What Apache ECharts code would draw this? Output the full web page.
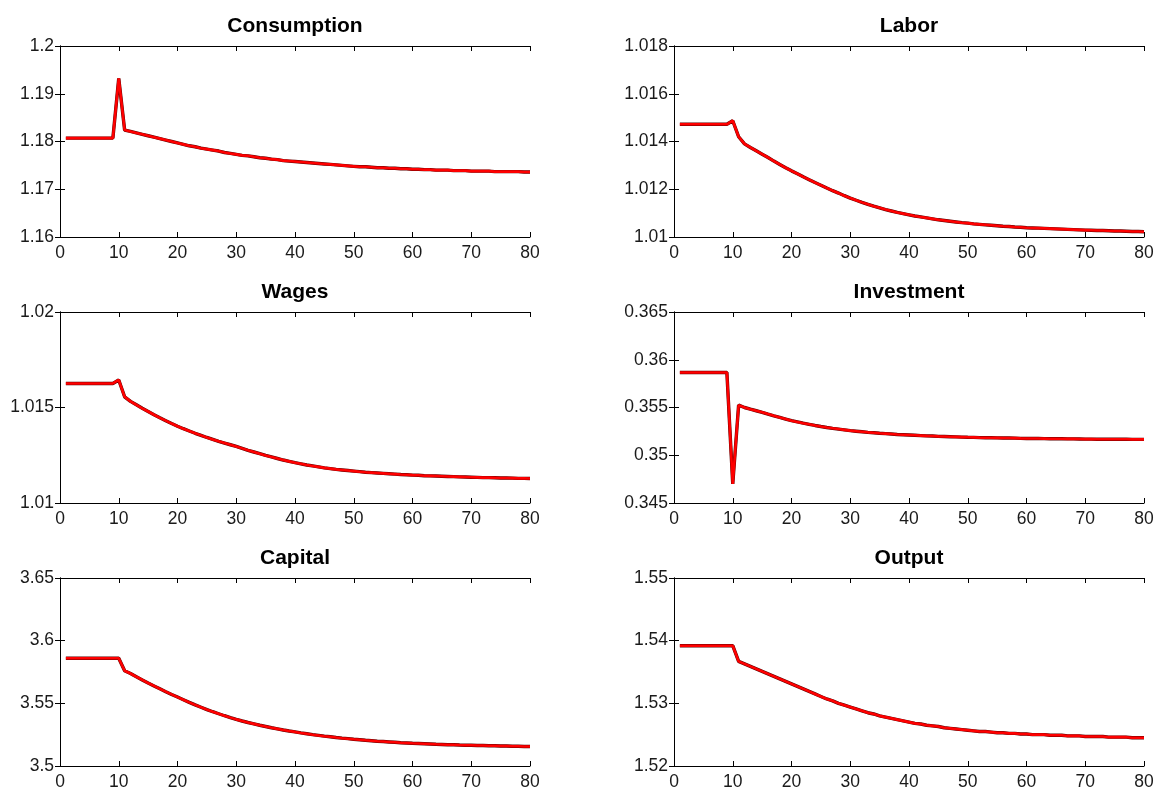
<!DOCTYPE html>
<html><head><meta charset="utf-8">
<script src="https://cdn.jsdelivr.net/npm/echarts@6/dist/echarts.min.js"></script>
<style>html,body{margin:0;padding:0;background:#fff}#c{width:1161px;height:791px}</style>
</head><body><div id="c"></div>
<script>
const periods = [1,2,3,4,5,6,7,8,9,10,11,12,13,14,15,16,17,18,19,20,21,22,23,24,25,26,27,28,29,30,31,32,33,34,35,36,37,38,39,40,41,42,43,44,45,46,47,48,49,50,51,52,53,54,55,56,57,58,59,60,61,62,63,64,65,66,67,68,69,70,71,72,73,74,75,76,77,78,79,80];
const xTicks = [0,10,20,30,40,50,60,70,80];

const consumption = [1.1807,1.1807,1.1807,1.1807,1.1807,1.1807,1.1807,1.1807,1.1807,1.1932,
 1.1824,1.1821,1.1818,1.1815,1.1812,1.1809,1.1806,1.1803,1.1800,1.1797,
 1.1794,1.1791,1.1789,1.1786,1.1784,1.1782,1.1780,1.1777,1.1775,1.1773,
 1.1771,1.1770,1.1768,1.1766,1.1765,1.1763,1.1762,1.1760,1.1759,1.1758,
 1.1757,1.1756,1.1755,1.1754,1.1753,1.1752,1.1751,1.1750,1.1749,1.1748,
 1.1747,1.1747,1.1746,1.1745,1.1745,1.1744,1.1744,1.1743,1.1743,1.1742,
 1.1742,1.1741,1.1741,1.1740,1.1740,1.1740,1.1739,1.1739,1.1739,1.1738,
 1.1738,1.1738,1.1738,1.1737,1.1737,1.1737,1.1737,1.1737,1.1736,1.1736];
const labor = [1.01472,1.01472,1.01472,1.01472,1.01472,1.01472,1.01472,1.01472,1.01472,1.01487,
 1.01420,1.01390,1.01375,1.01361,1.01347,1.01333,1.01318,1.01304,1.01290,1.01277,
 1.01265,1.01252,1.01240,1.01228,1.01217,1.01205,1.01194,1.01184,1.01173,1.01163,
 1.01154,1.01145,1.01137,1.01129,1.01122,1.01115,1.01109,1.01103,1.01098,1.01093,
 1.01088,1.01084,1.01080,1.01076,1.01072,1.01069,1.01066,1.01063,1.01060,1.01058,
 1.01055,1.01053,1.01051,1.01049,1.01047,1.01045,1.01044,1.01042,1.01041,1.01039,
 1.01038,1.01037,1.01036,1.01035,1.01034,1.01033,1.01032,1.01031,1.01030,1.01029,
 1.01028,1.01027,1.01027,1.01026,1.01025,1.01025,1.01024,1.01023,1.01023,1.01022];
const wages = [1.01626,1.01626,1.01626,1.01626,1.01626,1.01626,1.01626,1.01626,1.01626,1.01644,
 1.01556,1.01532,1.01514,1.01496,1.01479,1.01462,1.01446,1.01431,1.01416,1.01402,
 1.01389,1.01377,1.01365,1.01354,1.01343,1.01333,1.01323,1.01314,1.01305,1.01296,
 1.01286,1.01276,1.01267,1.01258,1.01249,1.01241,1.01233,1.01225,1.01218,1.01211,
 1.01205,1.01199,1.01194,1.01189,1.01184,1.01180,1.01176,1.01173,1.01170,1.01167,
 1.01164,1.01161,1.01159,1.01157,1.01155,1.01153,1.01151,1.01149,1.01148,1.01146,
 1.01145,1.01143,1.01142,1.01141,1.01140,1.01139,1.01138,1.01137,1.01136,1.01135,
 1.01134,1.01133,1.01133,1.01132,1.01131,1.01131,1.01130,1.01129,1.01129,1.01128];
const investment = [0.35867,0.35867,0.35867,0.35867,0.35867,0.35867,0.35867,0.35867,0.35867,0.34700,
 0.35525,0.35500,0.35482,0.35466,0.35450,0.35431,0.35413,0.35396,0.35379,0.35362,
 0.35349,0.35336,0.35324,0.35312,0.35301,0.35291,0.35282,0.35274,0.35266,0.35258,
 0.35252,0.35246,0.35240,0.35235,0.35230,0.35226,0.35222,0.35218,0.35215,0.35212,
 0.35209,0.35206,0.35203,0.35201,0.35198,0.35196,0.35194,0.35192,0.35190,0.35188,
 0.35187,0.35185,0.35184,0.35183,0.35182,0.35181,0.35180,0.35179,0.35177,0.35176,
 0.35175,0.35175,0.35174,0.35173,0.35173,0.35172,0.35171,0.35171,0.35170,0.35169,
 0.35169,0.35168,0.35168,0.35168,0.35167,0.35167,0.35167,0.35166,0.35166,0.35166];
const capital = [3.5860,3.5860,3.5860,3.5860,3.5860,3.5860,3.5860,3.5860,3.5860,3.5860,
 3.5760,3.5738,3.5712,3.5687,3.5662,3.5639,3.5616,3.5593,3.5571,3.5550,
 3.5529,3.5508,3.5488,3.5469,3.5450,3.5433,3.5417,3.5401,3.5386,3.5372,
 3.5359,3.5347,3.5336,3.5325,3.5315,3.5305,3.5296,3.5287,3.5279,3.5272,
 3.5264,3.5257,3.5250,3.5244,3.5238,3.5233,3.5227,3.5222,3.5218,3.5213,
 3.5209,3.5205,3.5202,3.5198,3.5195,3.5192,3.5189,3.5186,3.5184,3.5181,
 3.5179,3.5177,3.5175,3.5173,3.5172,3.5170,3.5169,3.5167,3.5166,3.5165,
 3.5164,3.5163,3.5162,3.5161,3.5160,3.5159,3.5158,3.5157,3.5156,3.5155];
const output = [1.5392,1.5392,1.5392,1.5392,1.5392,1.5392,1.5392,1.5392,1.5392,1.5392,
 1.5367,1.5363,1.5359,1.5355,1.5351,1.5347,1.5343,1.5339,1.5335,1.5331,
 1.5327,1.5323,1.5319,1.5315,1.5311,1.5307,1.5304,1.5300,1.5297,1.5294,
 1.5291,1.5288,1.5285,1.5283,1.5280,1.5278,1.5276,1.5274,1.5272,1.5270,
 1.5268,1.5267,1.5265,1.5264,1.5263,1.5261,1.5260,1.5259,1.5258,1.5257,
 1.5256,1.5255,1.5255,1.5254,1.5253,1.5253,1.5252,1.5252,1.5251,1.5251,
 1.5250,1.5250,1.5250,1.5249,1.5249,1.5249,1.5248,1.5248,1.5248,1.5247,
 1.5247,1.5247,1.5247,1.5246,1.5246,1.5246,1.5246,1.5245,1.5245,1.5245];

const consumptionTicks = [1.16,1.17,1.18,1.19,1.2];
const laborTicks = [1.01,1.012,1.014,1.016,1.018];
const wagesTicks = [1.01,1.015,1.02];
const investmentTicks = [0.345,0.35,0.355,0.36,0.365];
const capitalTicks = [3.5,3.55,3.6,3.65];
const outputTicks = [1.52,1.53,1.54,1.55];

const titles = ['Consumption','Labor','Wages','Investment','Capital','Output'];
const seriesValues = [consumption, labor, wages, investment, capital, output];
const tickSets = [consumptionTicks, laborTicks, wagesTicks, investmentTicks, capitalTicks, outputTicks];

const FONT = '"Liberation Sans", Arial, Helvetica, sans-serif';
const colLeft = [60, 674], rowTop = [46, 312, 578], W = 470, H = 191;

const grid = [], xAxis = [], yAxis = [], series = [], title = [];
const axisLine = {show: true, lineStyle: {color: '#000', width: 1}};
const tick = {show: true, inside: true, length: 5, lineStyle: {color: '#000', width: 1}};
const labelStyle = {color: '#1a1a1a', fontSize: 17.5, fontFamily: FONT};

titles.forEach((name, i) => {
  const col = i % 2, row = Math.floor(i / 2);
  const left = colLeft[col], top = rowTop[row];
  grid.push({left: left, top: top, width: W, height: H, show: false});
  const tk = tickSets[i];
  const ymin = tk[0], ymax = tk[tk.length - 1];
  const yint = +(tk[1] - tk[0]).toFixed(6);
  const xmin = xTicks[0], xmax = xTicks[xTicks.length - 1], xint = xTicks[1] - xTicks[0];
  xAxis.push({type: 'value', gridIndex: i, position: 'bottom', min: xmin, max: xmax, interval: xint,
    axisLine: axisLine, axisTick: tick, splitLine: {show: false},
    axisLabel: Object.assign({margin: 7}, labelStyle)});
  xAxis.push({type: 'value', gridIndex: i, position: 'top', min: xmin, max: xmax, interval: xint,
    axisLine: axisLine, axisTick: tick, splitLine: {show: false}, axisLabel: {show: false}});
  yAxis.push({type: 'value', gridIndex: i, position: 'left', min: ymin, max: ymax, interval: yint,
    axisLine: axisLine, axisTick: tick, splitLine: {show: false},
    axisLabel: Object.assign({margin: 6}, labelStyle)});
  yAxis.push({type: 'value', gridIndex: i, position: 'right', min: ymin, max: ymax, interval: yint,
    axisLine: axisLine, axisTick: tick, splitLine: {show: false}, axisLabel: {show: false}});
  const data = periods.map((t, k) => [t, seriesValues[i][k]]);
  series.push({type: 'line', name: name + ' (base)', xAxisIndex: 2 * i, yAxisIndex: 2 * i, data: data,
    showSymbol: false, symbol: 'none', lineStyle: {color: '#5a0000', width: 3.4}, z: 2});
  series.push({type: 'line', name: name, xAxisIndex: 2 * i, yAxisIndex: 2 * i, data: data,
    showSymbol: false, symbol: 'none', lineStyle: {color: '#ff0000', width: 2.6}, z: 3});
  title.push({text: name, left: left + W / 2, top: top - 20, textAlign: 'center', textVerticalAlign: 'middle',
    padding: 0, textStyle: {fontFamily: FONT, fontWeight: 'bold', fontSize: 21, color: '#000'}});
});

const chart = echarts.init(document.getElementById('c'), null, {renderer: 'canvas'});
chart.setOption({backgroundColor: '#fff', animation: false, title: title, grid: grid,
  xAxis: xAxis, yAxis: yAxis, series: series, tooltip: {show: false}});
</script></body></html>
